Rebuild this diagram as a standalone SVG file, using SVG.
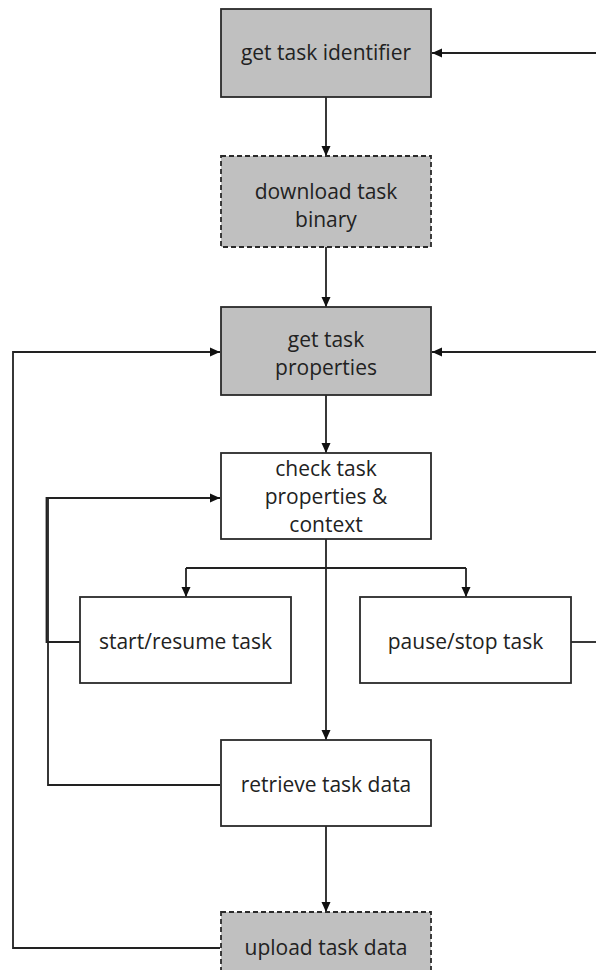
<svg xmlns="http://www.w3.org/2000/svg" width="596" height="970" viewBox="0 0 596 970">
<style>
.box{stroke:#2a2a2a;stroke-width:1.8}
.grey{fill:#c0c0c0}
.white{fill:#ffffff}
.dash{stroke-dasharray:5,3}
.lbl{font-family:"Open Sans","Liberation Sans",sans-serif;font-size:21px;fill:#222;text-anchor:middle}
.con{fill:none;stroke:#222;stroke-width:1.8}
</style>
<defs>
<marker id="ah" markerUnits="userSpaceOnUse" markerWidth="10" markerHeight="10" viewBox="0 0 10 10" refX="10" refY="5" orient="auto">
<path d="M0,0.5 L10,5 L0,9.5 Z" fill="#111"/>
</marker>
</defs>
<rect width="596" height="970" fill="#ffffff"/>
<g id="connectors">
<path class="con" d="M596,53 H432" marker-end="url(#ah)"/>
<path class="con" d="M326,97 V156" marker-end="url(#ah)"/>
<path class="con" d="M326,247 V307" marker-end="url(#ah)"/>
<path class="con" d="M596,352 H432" marker-end="url(#ah)"/>
<path class="con" d="M220,948 H13 V352 H220" marker-end="url(#ah)"/>
<path class="con" d="M326,395 V453" marker-end="url(#ah)"/>
<path class="con" d="M326,539 V740" marker-end="url(#ah)"/>
<path class="con" d="M186,568 H466"/>
<path class="con" d="M186,568 V597" marker-end="url(#ah)"/>
<path class="con" d="M466,568 V597" marker-end="url(#ah)"/>
<path class="con" d="M80,642 H46.5 V498 H220" marker-end="url(#ah)"/>
<path class="con" d="M220,785 H48 V498"/>
<path class="con" d="M571,642 H596"/>
<path class="con" d="M326,826 V912" marker-end="url(#ah)"/>
</g>
<g id="get-task-identifier">
<rect class="box grey" x="221" y="9" width="210" height="88"/>
<text class="lbl" x="326" y="60">get task identifier</text>
</g>
<g id="download-task-binary">
<rect class="box grey dash" x="221" y="156" width="210" height="91"/>
<text class="lbl" x="326" y="199">download task</text>
<text class="lbl" x="326" y="227">binary</text>
</g>
<g id="get-task-properties">
<rect class="box grey" x="221" y="307" width="210" height="88"/>
<text class="lbl" x="326" y="347">get task</text>
<text class="lbl" x="326" y="375">properties</text>
</g>
<g id="check-task-properties">
<rect class="box white" x="221" y="453" width="210" height="86"/>
<text class="lbl" x="326" y="476">check task</text>
<text class="lbl" x="326" y="504">properties &amp;</text>
<text class="lbl" x="326" y="532">context</text>
</g>
<g id="start-resume-task">
<rect class="box white" x="80" y="597" width="211" height="86"/>
<text class="lbl" x="185.5" y="649">start/resume task</text>
</g>
<g id="pause-stop-task">
<rect class="box white" x="360" y="597" width="211" height="86"/>
<text class="lbl" x="465.5" y="649">pause/stop task</text>
</g>
<g id="retrieve-task-data">
<rect class="box white" x="221" y="740" width="210" height="86"/>
<text class="lbl" x="326" y="792">retrieve task data</text>
</g>
<g id="upload-task-data">
<rect class="box grey dash" x="221" y="912" width="210" height="88"/>
<text class="lbl" x="326" y="955">upload task data</text>
</g>
</svg>
